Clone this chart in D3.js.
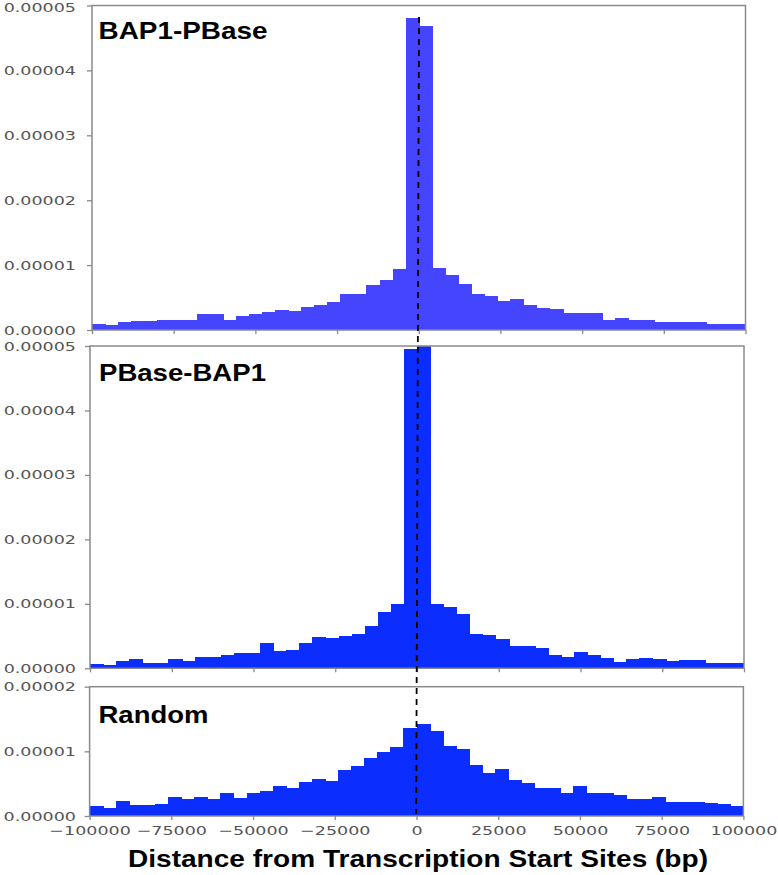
<!DOCTYPE html>
<html>
<head>
<meta charset="utf-8">
<script src="https://cdn.jsdelivr.net/npm/d3@7"></script>
<style>
  html, body { margin: 0; padding: 0; background: #fff; }
  svg { display: block; }
</style>
</head>
<body>
<svg id="chart" width="778" height="875"></svg>
<script>
// ---------- DATA ----------
// Histogram bins: 4000 bp wide, from -100000 to 100000
const binStarts = d3.range(-100000, 100000, 4000);
const binWidth = 4000;

const panelNames = ["BAP1-PBase", "PBase-BAP1", "Random"];

const bap1PBase = [
  0.09e-5, 0.07e-5, 0.13e-5, 0.14e-5, 0.14e-5, 0.15e-5, 0.15e-5, 0.15e-5, 0.24e-5, 0.24e-5,
  0.16e-5, 0.22e-5, 0.25e-5, 0.28e-5, 0.31e-5, 0.29e-5, 0.35e-5, 0.38e-5, 0.43e-5, 0.56e-5,
  0.55e-5, 0.69e-5, 0.77e-5, 0.94e-5, 4.81e-5,
  4.69e-5, 0.96e-5, 0.84e-5, 0.71e-5, 0.55e-5, 0.52e-5, 0.45e-5, 0.48e-5, 0.38e-5, 0.34e-5,
  0.32e-5, 0.26e-5, 0.26e-5, 0.26e-5, 0.16e-5, 0.18e-5, 0.15e-5, 0.15e-5, 0.12e-5, 0.12e-5,
  0.13e-5, 0.13e-5, 0.10e-5, 0.10e-5, 0.10e-5
];

const pBaseBAP1 = [
  0.06e-5, 0.05e-5, 0.12e-5, 0.14e-5, 0.08e-5, 0.08e-5, 0.14e-5, 0.12e-5, 0.17e-5, 0.17e-5,
  0.21e-5, 0.23e-5, 0.23e-5, 0.39e-5, 0.27e-5, 0.28e-5, 0.39e-5, 0.49e-5, 0.47e-5, 0.50e-5,
  0.53e-5, 0.66e-5, 0.88e-5, 0.99e-5, 4.95e-5,
  5.30e-5, 1.00e-5, 0.95e-5, 0.84e-5, 0.53e-5, 0.51e-5, 0.45e-5, 0.34e-5, 0.35e-5, 0.32e-5,
  0.21e-5, 0.18e-5, 0.26e-5, 0.20e-5, 0.16e-5, 0.10e-5, 0.14e-5, 0.16e-5, 0.14e-5, 0.12e-5,
  0.13e-5, 0.13e-5, 0.08e-5, 0.08e-5, 0.08e-5
];

const randomSites = [
  0.16e-5, 0.13e-5, 0.23e-5, 0.17e-5, 0.17e-5, 0.19e-5, 0.30e-5, 0.26e-5, 0.30e-5, 0.26e-5,
  0.35e-5, 0.28e-5, 0.35e-5, 0.39e-5, 0.46e-5, 0.44e-5, 0.52e-5, 0.57e-5, 0.54e-5, 0.71e-5,
  0.78e-5, 0.90e-5, 0.99e-5, 1.06e-5, 1.36e-5,
  1.43e-5, 1.32e-5, 1.08e-5, 1.04e-5, 0.79e-5, 0.66e-5, 0.72e-5, 0.55e-5, 0.51e-5, 0.44e-5,
  0.44e-5, 0.36e-5, 0.46e-5, 0.36e-5, 0.36e-5, 0.32e-5, 0.27e-5, 0.26e-5, 0.29e-5, 0.21e-5,
  0.21e-5, 0.21e-5, 0.20e-5, 0.19e-5, 0.15e-5
];

const xTickValues = [-100000, -75000, -50000, -25000, 0, 25000, 50000, 75000, 100000];
const yTicksTall = [0, 1e-5, 2e-5, 3e-5, 4e-5, 5e-5];
const yTicksShort = [0, 1e-5, 2e-5];
const xAxisTitle = "Distance from Transcription Start Sites (bp)";

// ---------- LAYOUT ----------
const panels = [
  { name: panelNames[0], values: bap1PBase, color: "#4545ff",
    xr: [92, 745.5], yr: [330, 5.5], yMax: 5e-5, yTicks: yTicksTall,
    xLabels: false, labelX: 98.5, labelY: 39, labelLen: 169 },
  { name: panelNames[1], values: pBaseBAP1, color: "#0b2eff",
    xr: [90, 744], yr: [668.3, 346], yMax: 5e-5, yTicks: yTicksTall,
    xLabels: false, labelX: 99, labelY: 381, labelLen: 167 },
  { name: panelNames[2], values: randomSites, color: "#0b2eff",
    xr: [89.6, 743.4], yr: [816, 686.7], yMax: 2e-5, yTicks: yTicksShort,
    xLabels: true, labelX: 98.5, labelY: 722.7, labelLen: 110 }
];

const svg = d3.select("#chart");
const tickColor = "#555";
const frameColor = "#8a8a8a";
const stretch = 1.4;

function stretchText(sel, factor) {
  sel.each(function () {
    const len = this.getComputedTextLength();
    d3.select(this).attr("textLength", len * factor).attr("lengthAdjust", "spacingAndGlyphs");
  });
}

let midScale = null;

panels.forEach((p, i) => {
  const x = d3.scaleLinear().domain([-100000, 100000]).range(p.xr);
  const y = d3.scaleLinear().domain([0, p.yMax]).range(p.yr);
  if (i === 1) midScale = x;

  const g = svg.append("g");
  const clipId = "clip" + i;
  svg.append("clipPath").attr("id", clipId)
    .append("rect")
    .attr("x", p.xr[0]).attr("y", p.yr[1])
    .attr("width", p.xr[1] - p.xr[0]).attr("height", p.yr[0] - p.yr[1]);

  // bars
  g.append("g").attr("clip-path", `url(#${clipId})`)
    .attr("shape-rendering", "crispEdges")
    .selectAll("rect")
    .data(p.values)
    .join("rect")
    .attr("x", (d, j) => x(binStarts[j]))
    .attr("width", (d, j) => x(binStarts[j] + binWidth) - x(binStarts[j]) + 1)
    .attr("y", d => y(d))
    .attr("height", d => y(0) - y(d))
    .attr("fill", p.color);

  // frame
  g.append("rect")
    .attr("x", p.xr[0]).attr("y", p.yr[1])
    .attr("width", p.xr[1] - p.xr[0]).attr("height", p.yr[0] - p.yr[1])
    .attr("fill", "none").attr("stroke", frameColor).attr("stroke-width", 1.5);

  // y axis
  const ya = g.append("g")
    .attr("transform", `translate(${p.xr[0]},0)`)
    .call(d3.axisLeft(y).tickValues(p.yTicks).tickFormat(d3.format(".5f")).tickSize(5).tickSizeOuter(0));
  ya.select(".domain").remove();
  ya.selectAll("line").attr("stroke", frameColor).attr("stroke-width", 1.3);
  ya.selectAll("text")
    .attr("x", 76 - p.xr[0])
    .attr("y", d => (i === 0 && d === p.yMax) ? 2 : 0)
    .attr("fill", tickColor)
    .style("font-family", "'DejaVu Sans', sans-serif")
    .style("font-size", "12.5px")
    .call(stretchText, stretch);

  // x axis
  const xa = g.append("g")
    .attr("transform", `translate(0,${p.yr[0]})`)
    .call(d3.axisBottom(x).tickValues(xTickValues).tickFormat(d3.format("d")).tickSize(4).tickSizeOuter(0));
  xa.select(".domain").remove();
  xa.selectAll("line").attr("stroke", frameColor).attr("stroke-width", 1.3);
  if (p.xLabels) {
    xa.selectAll("text")
      .attr("y", 10)
      .attr("fill", tickColor)
      .style("font-family", "'DejaVu Sans', sans-serif")
      .style("font-size", "12.5px")
      .call(stretchText, stretch);
  } else {
    xa.selectAll("text").remove();
  }

  // panel label
  g.append("text")
    .attr("x", p.labelX).attr("y", p.labelY)
    .attr("textLength", p.labelLen).attr("lengthAdjust", "spacingAndGlyphs")
    .style("font-family", "'Liberation Sans', Arial, sans-serif")
    .style("font-weight", "bold")
    .style("font-size", "24.5px")
    .attr("fill", "#000")
    .text(p.name);
});

// dashed TSS line spanning all panels
svg.append("line")
  .attr("x1", midScale(0) + 2).attr("y1", 17)
  .attr("x2", midScale(0) - 0.8).attr("y2", 814)
  .attr("stroke", "#000").attr("stroke-width", 1.8)
  .attr("stroke-dasharray", "6,5");

// x-axis title
svg.append("text")
  .attr("x", 418).attr("y", 867)
  .attr("text-anchor", "middle")
  .attr("textLength", 580).attr("lengthAdjust", "spacingAndGlyphs")
  .style("font-family", "'Liberation Sans', Arial, sans-serif")
  .style("font-weight", "bold")
  .style("font-size", "24px")
  .attr("fill", "#000")
  .text(xAxisTitle);
</script>
</body>
</html>
